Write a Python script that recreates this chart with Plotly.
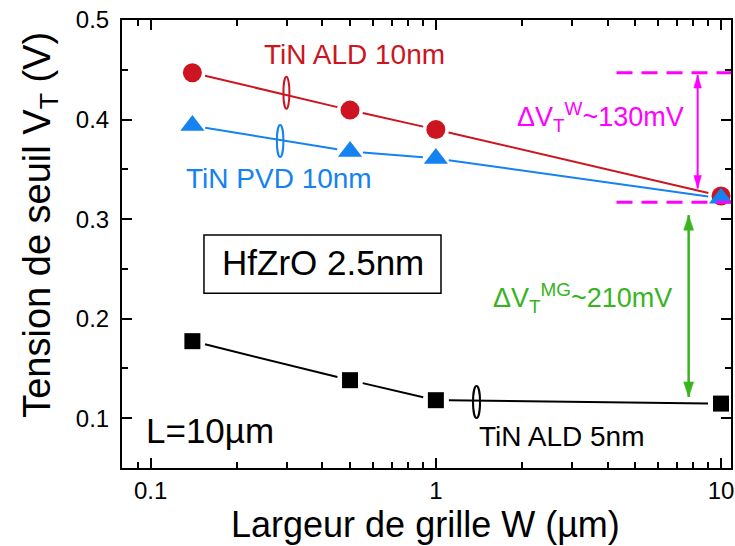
import numpy as np
import plotly.graph_objects as go

# ---------------- data ----------------
W = [0.14, 0.5, 1, 10]                      # gate width (µm)
vt_ald10 = [0.447, 0.4095, 0.390, 0.3233]   # TiN ALD 10nm
vt_pvd10 = [0.394, 0.368, 0.361, 0.321]     # TiN PVD 10nm
vt_ald5 = [0.1774, 0.1382, 0.1181, 0.1147]  # TiN ALD 5nm

x_tick_vals = [0.1, 1, 10]
x_tick_text = ["0.1", "1", "10"]
x_minor_vals = [0.09, 0.2, 0.3, 0.4, 0.5, 0.6, 0.7, 0.8, 0.9, 2, 3, 4, 5, 6, 7, 8, 9]
y_tick_vals = [0.1, 0.2, 0.3, 0.4, 0.5]
y_tick_text = ["0.1", "0.2", "0.3", "0.4", "0.5"]
y_minor_vals = [0.15, 0.25, 0.35, 0.45]

# ---------------- layout constants ----------------
FIG_W, FIG_H = 735, 546
MARGIN = dict(l=122, r=4, t=20, b=78, autoexpand=False)
X_RANGE = [-1.1007, 1.035]   # log10 units
Y_RANGE = [0.05, 0.5]
PLOT_W = FIG_W - MARGIN["l"] - MARGIN["r"]
PLOT_H = FIG_H - MARGIN["t"] - MARGIN["b"]

RED = "#cc1520"
BLUE = "#1482f0"
GREEN = "#38b41e"
MAGENTA = "#ff00ff"
FONT = "Liberation Sans, Arial, sans-serif"


def gapped(xs, ys, gap=13.0):
    """Segments between consecutive points, shortened by `gap` pixels at both ends."""
    ppd = PLOT_W / (X_RANGE[1] - X_RANGE[0])
    ppv = PLOT_H / (Y_RANGE[1] - Y_RANGE[0])
    gx, gy = [], []
    for i in range(len(xs) - 1):
        l1, l2 = np.log10(xs[i]), np.log10(xs[i + 1])
        dx = (l2 - l1) * ppd
        dy = (ys[i + 1] - ys[i]) * ppv
        f = gap / np.hypot(dx, dy)
        sx, sy = l1 + (l2 - l1) * f, ys[i] + (ys[i + 1] - ys[i]) * f
        ex, ey = l2 - (l2 - l1) * f, ys[i + 1] - (ys[i + 1] - ys[i]) * f
        gx += [10 ** sx, 10 ** ex, None]
        gy += [sy, ey, None]
    return gx, gy


fig = go.Figure()

for ys, col in [(vt_ald5, "black"), (vt_pvd10, BLUE), (vt_ald10, RED)]:
    gx, gy = gapped(W, ys)
    fig.add_trace(go.Scatter(x=gx, y=gy, mode="lines", line=dict(color=col, width=2),
                             hoverinfo="skip", showlegend=False))

fig.add_trace(go.Scatter(x=W, y=vt_ald5, mode="markers", name="TiN ALD 5nm",
                         marker=dict(symbol="square", size=16, color="black"), showlegend=False))
fig.add_trace(go.Scatter(x=W, y=vt_ald10, mode="markers", name="TiN ALD 10nm",
                         marker=dict(symbol="circle", size=19, color=RED), showlegend=False))
fig.add_trace(go.Scatter(x=W, y=vt_pvd10, mode="markers", name="TiN PVD 10nm",
                         marker=dict(symbol="triangle-up", size=21, color=BLUE), showlegend=False))

shapes = []
# series ellipses
for xa, ya, col, hw in [(0.292, 0.427, RED, 6), (0.277, 0.3785, BLUE, 6.5), (1.35, 0.1163, "black", 7)]:
    shapes.append(dict(type="circle", xref="x", yref="y", xsizemode="pixel", ysizemode="pixel",
                       xanchor=xa, yanchor=ya, x0=-hw, x1=hw, y0=-16, y1=16,
                       line=dict(color=col, width=2)))
# HfZrO box
shapes.append(dict(type="rect", xref="paper", yref="paper", x0=0.1346, x1=0.5238, y0=0.39, y1=0.52,
                   line=dict(color="black", width=1.5), fillcolor="rgba(0,0,0,0)"))
# magenta dashed reference levels
x_right = 10 ** X_RANGE[1]
for yv in [vt_ald10[0], 0.317]:
    shapes.append(dict(type="line", xref="x", yref="y", x0=4.3, x1=x_right, y0=yv, y1=yv,
                       line=dict(color=MAGENTA, width=3, dash="16px,9px")))


def double_arrow(xv, ytop, ybot, col, width, hl, hw):
    out = [dict(type="line", xref="x", yref="y", x0=xv, x1=xv, y0=ytop, y1=ybot,
                line=dict(color=col, width=width))]
    out.append(dict(type="path", xref="x", yref="y", xsizemode="pixel", ysizemode="pixel",
                    xanchor=xv, yanchor=ytop, path=f"M0,0 L{-hw},{-hl} L{hw},{-hl} Z",
                    fillcolor=col, line=dict(color=col, width=0.5)))
    out.append(dict(type="path", xref="x", yref="y", xsizemode="pixel", ysizemode="pixel",
                    xanchor=xv, yanchor=ybot, path=f"M0,0 L{-hw},{hl} L{hw},{hl} Z",
                    fillcolor=col, line=dict(color=col, width=0.5)))
    return out


shapes += double_arrow(8.28, 0.4447, 0.3308, MAGENTA, 2, 13, 3.8)
shapes += double_arrow(7.70, 0.304, 0.1214, GREEN, 2.5, 15, 5)

annotations = [
    dict(text="TiN ALD 10nm", x=0.3821, y=0.9219, font=dict(size=28, color=RED)),
    dict(text="TiN PVD 10nm", x=0.2586, y=0.6473, font=dict(size=28, color=BLUE)),
    dict(text="HfZrO 2.5nm", x=0.330, y=0.4587, font=dict(size=35, color="black")),
    dict(text="L=10µm", x=0.1445, y=0.0848, font=dict(size=35, color="black")),
    dict(text="TiN ALD 5nm", x=0.7209, y=0.0699, font=dict(size=28, color="black")),
    dict(text="ΔV<sub>T</sub><sup>W</sup>~130mV", x=0.6445, y=0.784, xanchor="left",
         font=dict(size=27, color=MAGENTA)),
    dict(text="ΔV<sub>T</sub><sup>MG</sup>~210mV", x=0.6065, y=0.3795, xanchor="left",
         font=dict(size=27, color=GREEN)),
    dict(text="Largeur de grille W (µm)", x=0.4984, y=-0.127, font=dict(size=36, color="black")),
    dict(text="Tension de seuil V<sub>T</sub> (V)", x=-0.135, y=0.5424, textangle=-90,
         font=dict(size=38, color="black")),
]
for a in annotations:
    a.setdefault("xanchor", "center")
    a.setdefault("yanchor", "middle")
    a.update(xref="paper", yref="paper", showarrow=False)

axis_common = dict(showline=True, linecolor="black", linewidth=2, mirror="allticks",
                   ticks="inside", ticklen=10, tickwidth=2, tickcolor="black",
                   showgrid=False, zeroline=False, automargin=False,
                   tickfont=dict(size=24, color="black", family=FONT))

fig.update_layout(
    width=FIG_W, height=FIG_H, margin=MARGIN,
    paper_bgcolor="white", plot_bgcolor="white",
    font=dict(family=FONT, color="black"),
    showlegend=False,
    xaxis=dict(type="log", range=X_RANGE, tickvals=x_tick_vals, ticktext=x_tick_text,
               minor=dict(tickvals=x_minor_vals, ticks="inside", ticklen=6, tickwidth=2,
                          tickcolor="black", showgrid=False),
               **axis_common),
    yaxis=dict(range=Y_RANGE, tickvals=y_tick_vals, ticktext=y_tick_text,
               minor=dict(tickvals=y_minor_vals, ticks="inside", ticklen=6, tickwidth=2,
                          tickcolor="black", showgrid=False),
               ticklabelstandoff=6,
               **axis_common),
    shapes=shapes,
    annotations=annotations,
)

fig.write_html("out.html", config={"displayModeBar": False},
               post_script="document.body.style.margin='0';")
